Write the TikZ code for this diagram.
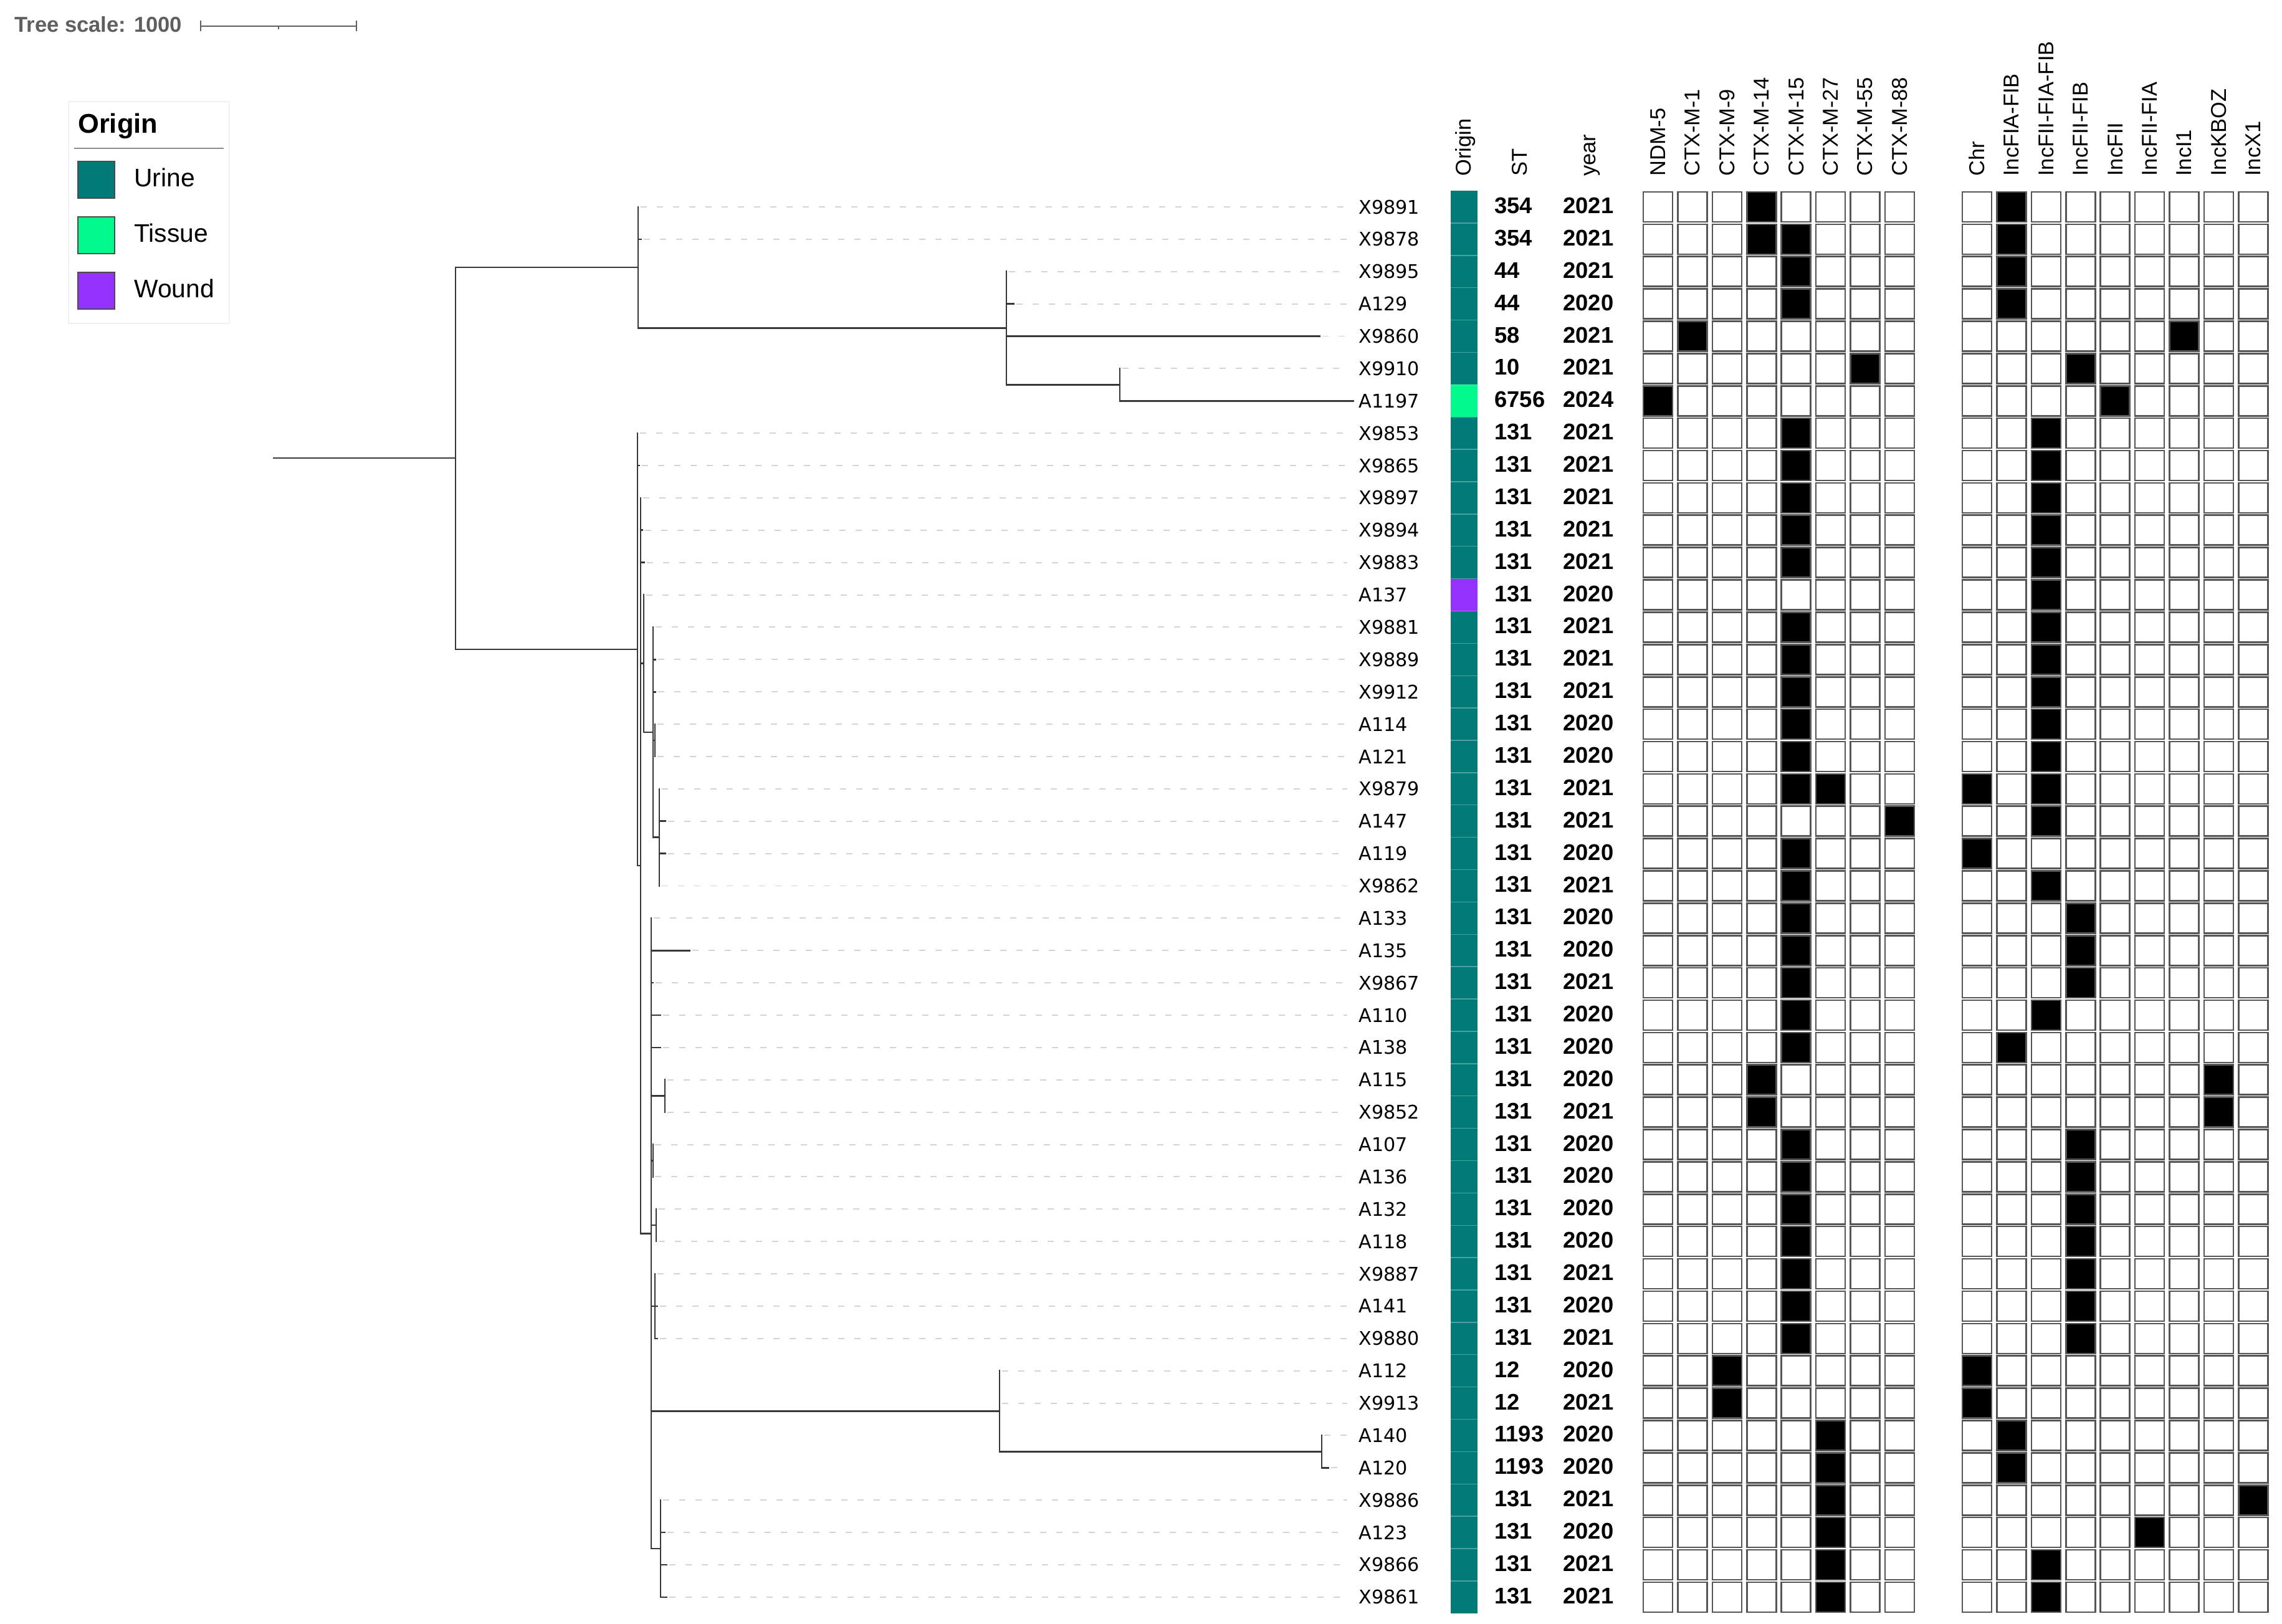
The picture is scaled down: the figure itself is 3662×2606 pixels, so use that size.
\documentclass[tikz,border=0pt]{standalone}
\usepackage{fontspec}
\setmainfont{Liberation Sans}
\newfontfamily\leaffont{DejaVu Sans}
\definecolor{urine}{RGB}{0,123,120}
\definecolor{tissue}{RGB}{0,250,140}
\definecolor{wound}{RGB}{150,50,255}
\definecolor{treecol}{RGB}{55,55,55}
\definecolor{leadcol}{RGB}{212,212,212}
\definecolor{boxcol}{RGB}{85,85,85}
\definecolor{scalecol}{RGB}{95,95,95}
\newcommand\rwy[1]{(332+(#1-1)*51.88)}
\begin{document}
\begin{tikzpicture}[x=0.02cm,y=-0.02cm,
  treeline/.style={draw=treecol,line width=1.5pt,line cap=rect},
  leaderline/.style={draw=leadcol,line width=1.1pt,dash pattern=on 0.2cm off 0.32cm},
  leaflab/.style={anchor=west,inner sep=0pt,font={\leaffont\fontsize{17.2}{20}\selectfont}},
  numlab/.style={anchor=west,inner sep=0pt,font={\fontsize{20.7}{24}\selectfont\bfseries}},
  hdr/.style={rotate=90,anchor=base west,inner sep=0pt,font={\fontsize{19.6}{22}\selectfont}},
  cellbox/.style={draw=boxcol,line width=1.5pt,fill=white},
  cellon/.style={draw=boxcol,line width=1.5pt,fill=black},
  legsq/.style={draw=black!70,line width=0.8pt},
  leglab/.style={anchor=base west,inner sep=0pt,font={\fontsize{23.2}{26}\selectfont}}]
\useasboundingbox (0,0) rectangle (3662,2606);
\fill[white] (0,0) rectangle (3662,2606);

% tree scale
\node[anchor=base west,inner sep=0pt,text=scalecol,font={\fontsize{19.7}{22}\selectfont\bfseries}] (tscale) at (23,52) {Tree scale: 1000};
\coordinate (sbl) at (322,42);
\coordinate (sbr) at (572,42);
\draw[draw=scalecol,line width=1.6pt] (sbl) -- (sbr);
\draw[draw=scalecol,line width=1.6pt] (322,33.5) -- (322,50.5);
\draw[draw=scalecol,line width=1.6pt] (572,33.5) -- (572,50.5);
\draw[draw=scalecol,line width=1.2pt] (447,42) -- (447,47);

% legend
\draw[draw=black!6,fill=white,line width=0.8pt] (110,163) rectangle (368,519);
\node[anchor=base west,inner sep=0pt,font={\fontsize{24.7}{28}\selectfont\bfseries}] (legtitle) at (125,214) {Origin};
\draw[draw=black!45,line width=1.4pt] (119,238) -- (359,238);
\draw[legsq,fill=urine] (125,259) rectangle (184,318);
\draw[legsq,fill=tissue] (125,348) rectangle (184,407);
\draw[legsq,fill=wound] (125,437) rectangle (184,496);
\node[leglab] (legu) at (215,299) {Urine};
\node[leglab] (legt) at (215,388) {Tissue};
\node[leglab] (legw) at (215,477) {Wound};

% headers
\node[hdr] (hOrigin) at (2360,283) {Origin};
\node[hdr] (hST) at (2450,283) {ST};
\node[hdr] (hYear) at (2560,283) {year};
\foreach \k/\t in {1/NDM-5,2/CTX-M-1,3/CTX-M-9,4/CTX-M-14,5/CTX-M-15,6/CTX-M-27,7/CTX-M-55,8/CTX-M-88}
  \node[hdr] (ga\k) at ({2660.5+(\k-1)*55.4+12},283) {\t};
\foreach \k/\t in {1/Chr,2/IncFIA-FIB,3/IncFII-FIA-FIB,4/IncFII-FIB,5/IncFII,6/IncFII-FIA,7/IncI1,8/IncKBOZ,9/IncX1}
  \node[hdr] (gb\k) at ({3172.5+(\k-1)*55.4+12},283) {\t};

% rows
\foreach \i/\nm/\tp/\vst/\vyr/\oc in {
1/X9891/1024/354/2021/urine,
2/X9878/1029/354/2021/urine,
3/X9895/1615/44/2021/urine,
4/A129/1627/44/2020/urine,
5/X9860/2118/58/2021/urine,
6/X9910/1797/10/2021/urine,
7/A1197/2172/6756/2024/tissue,
8/X9853/1023/131/2021/urine,
9/X9865/1026/131/2021/urine,
10/X9897/1028/131/2021/urine,
11/X9894/1031/131/2021/urine,
12/X9883/1034/131/2021/urine,
13/A137/1033/131/2020/wound,
14/X9881/1048/131/2021/urine,
15/X9889/1052/131/2021/urine,
16/X9912/1052/131/2021/urine,
17/A114/1051/131/2020/urine,
18/A121/1051/131/2020/urine,
19/X9879/1058/131/2021/urine,
20/A147/1068/131/2021/urine,
21/A119/1068/131/2020/urine,
22/X9862/1058/131/2021/urine,
23/A133/1045/131/2020/urine,
24/A135/1107/131/2020/urine,
25/X9867/1048/131/2021/urine,
26/A110/1060/131/2020/urine,
27/A138/1060/131/2020/urine,
28/A115/1067/131/2020/urine,
29/X9852/1067/131/2021/urine,
30/A107/1047/131/2020/urine,
31/A136/1047/131/2020/urine,
32/A132/1053/131/2020/urine,
33/A118/1053/131/2020/urine,
34/X9887/1051/131/2021/urine,
35/A141/1055/131/2020/urine,
36/X9880/1055/131/2021/urine,
37/A112/1604/12/2020/urine,
38/X9913/1604/12/2021/urine,
39/A140/2121/1193/2020/urine,
40/A120/2132/1193/2020/urine,
41/X9886/1060/131/2021/urine,
42/A123/1067/131/2020/urine,
43/X9866/1070/131/2021/urine,
44/X9861/1070/131/2021/urine}{
  \pgfmathsetmacro\yy{332+(\i-1)*51.88}
  \pgfmathtruncatemacro\dol{\tp<2150}
  \node[leaflab] (leaf\i) at (2180,\yy) {\nm};
  \ifnum\dol=1
    \coordinate (tip\i) at (\tp+4,\yy);
    \draw[leaderline] (tip\i) -- (2162,\yy);
  \fi
  \fill[\oc] (2328,\yy-25.94) rectangle (2371,\yy+25.94);
  \node[numlab] (st\i) at (2398,\yy-2) {\vst};
  \node[numlab] (yr\i) at (2508,\yy-2) {\vyr};
  \foreach \k in {1,...,8}
    \draw[cellbox] ({2637+(\k-1)*55.4},\yy-24) rectangle ++(47,48);
  \foreach \k in {1,...,9}
    \draw[cellbox] ({3149+(\k-1)*55.4},\yy-24) rectangle ++(47,48);
}
% origin separators
\foreach \i in {1,...,43}
  \draw[white,opacity=0.3,line width=0.8pt] (2328,{332+(\i-1)*51.88+25.94}) -- (2371,{332+(\i-1)*51.88+25.94});

% filled cells, group 1
\foreach \r/\k in {1/4,2/4,2/5,3/5,4/5,5/2,6/7,7/1,8/5,9/5,10/5,11/5,12/5,14/5,15/5,16/5,17/5,18/5,19/5,19/6,20/8,21/5,22/5,23/5,24/5,25/5,26/5,27/5,28/4,29/4,30/5,31/5,32/5,33/5,34/5,35/5,36/5,37/3,38/3,39/6,40/6,41/6,42/6,43/6,44/6}
  \draw[cellon] ({2637+(\k-1)*55.4},{332+(\r-1)*51.88-24}) rectangle ++(47,48);
% filled cells, group 2
\foreach \r/\k in {1/2,2/2,3/2,4/2,5/7,6/4,7/5,8/3,9/3,10/3,11/3,12/3,13/3,14/3,15/3,16/3,17/3,18/3,19/1,19/3,20/3,21/1,22/3,23/4,24/4,25/4,26/3,27/2,28/8,29/8,30/4,31/4,32/4,33/4,34/4,35/4,36/4,37/1,38/1,39/2,40/2,41/9,42/6,43/3,44/3}
  \draw[cellon] ({3149+(\k-1)*55.4},{332+(\r-1)*51.88-24}) rectangle ++(47,48);

% tree
\coordinate (root) at (439,735);
\coordinate (n0) at (731,735);
\draw[treeline] (root) -- (n0);
\draw[treeline] (731,429) -- (731,1042.1);
\draw[treeline] (731,429) -- (1024,429);
\draw[treeline] (731,1042.1) -- (1023,1042.1);
% upper clade
\draw[treeline] (1024,{\rwy{1}}) -- (1024,526.6);
\draw[treeline] (1024,{\rwy{2}}) -- (1029,{\rwy{2}});
\draw[treeline] (1024,526.6) -- (1615,526.6);
\draw[treeline] (1615,{\rwy{3}}) -- (1615,617.4);
\draw[treeline] (1615,{\rwy{4}}) -- (1627,{\rwy{4}});
\draw[treeline] (1615,{\rwy{5}}) -- (2118,{\rwy{5}});
\draw[treeline] (1615,617.4) -- (1797,617.4);
\draw[treeline] (1797,{\rwy{6}}) -- (1797,{\rwy{7}});
\draw[treeline] (1797,{\rwy{7}}) -- (2172,{\rwy{7}});
% lower clade
\draw[treeline] (1023,{\rwy{8}}) -- (1023,1389);
\draw[treeline] (1023,{\rwy{9}}) -- (1026,{\rwy{9}});
\draw[treeline] (1023,1389) -- (1028,1389);
\draw[treeline] (1028,{\rwy{10}}) -- (1028,1979.2);
\draw[treeline] (1028,{\rwy{11}}) -- (1031,{\rwy{11}});
\draw[treeline] (1028,{\rwy{12}}) -- (1034,{\rwy{12}});
\draw[treeline] (1028,1064.8) -- (1033,1064.8);
\draw[treeline] (1033,{\rwy{13}}) -- (1033,1175);
\draw[treeline] (1033,1175) -- (1048,1175);
\draw[treeline] (1048,{\rwy{14}}) -- (1048,1343.7);
\draw[treeline] (1048,{\rwy{15}}) -- (1052,{\rwy{15}});
\draw[treeline] (1048,{\rwy{16}}) -- (1052,{\rwy{16}});
\draw[treeline] (1048,1188) -- (1051,1188);
\draw[treeline] (1051,{\rwy{17}}) -- (1051,{\rwy{18}});
\draw[treeline] (1048,1343.7) -- (1058,1343.7);
\draw[treeline] (1058,{\rwy{19}}) -- (1058,{\rwy{22}});
\draw[treeline] (1058,{\rwy{20}}) -- (1068,{\rwy{20}});
\draw[treeline] (1058,{\rwy{21}}) -- (1068,{\rwy{21}});
\draw[treeline] (1028,1979.2) -- (1045,1979.2);
\draw[treeline] (1045,{\rwy{23}}) -- (1045,2485);
\draw[treeline] (1045,{\rwy{24}}) -- (1107,{\rwy{24}});
\draw[treeline] (1045,{\rwy{25}}) -- (1048,{\rwy{25}});
\draw[treeline] (1045,{\rwy{26}}) -- (1060,{\rwy{26}});
\draw[treeline] (1045,{\rwy{27}}) -- (1060,{\rwy{27}});
\draw[treeline] (1045,1758.7) -- (1067,1758.7);
\draw[treeline] (1067,{\rwy{28}}) -- (1067,{\rwy{29}});
\draw[treeline] (1045,1862.5) -- (1048,1862.5);
\draw[treeline] (1048,{\rwy{30}}) -- (1048,{\rwy{31}});
\draw[treeline] (1045,1966) -- (1053,1966);
\draw[treeline] (1053,{\rwy{32}}) -- (1053,{\rwy{33}});
\draw[treeline] (1045,{\rwy{35}}) -- (1055,{\rwy{35}});
\draw[treeline] (1051,{\rwy{34}}) -- (1051,{\rwy{36}});
\draw[treeline] (1051,{\rwy{36}}) -- (1055,{\rwy{36}});
\draw[treeline] (1045,2264.5) -- (1604,2264.5);
\draw[treeline] (1604,{\rwy{37}}) -- (1604,2329.4);
\draw[treeline] (1604,2329.4) -- (2121,2329.4);
\draw[treeline] (2121,{\rwy{39}}) -- (2121,{\rwy{40}});
\draw[treeline] (2121,{\rwy{40}}) -- (2132,{\rwy{40}});
\draw[treeline] (1045,2485) -- (1060,2485);
\draw[treeline] (1060,{\rwy{41}}) -- (1060,{\rwy{44}});
\draw[treeline] (1060,{\rwy{42}}) -- (1067,{\rwy{42}});
\draw[treeline] (1060,{\rwy{43}}) -- (1070,{\rwy{43}});
\draw[treeline] (1060,{\rwy{44}}) -- (1070,{\rwy{44}});
\end{tikzpicture}
\end{document}
